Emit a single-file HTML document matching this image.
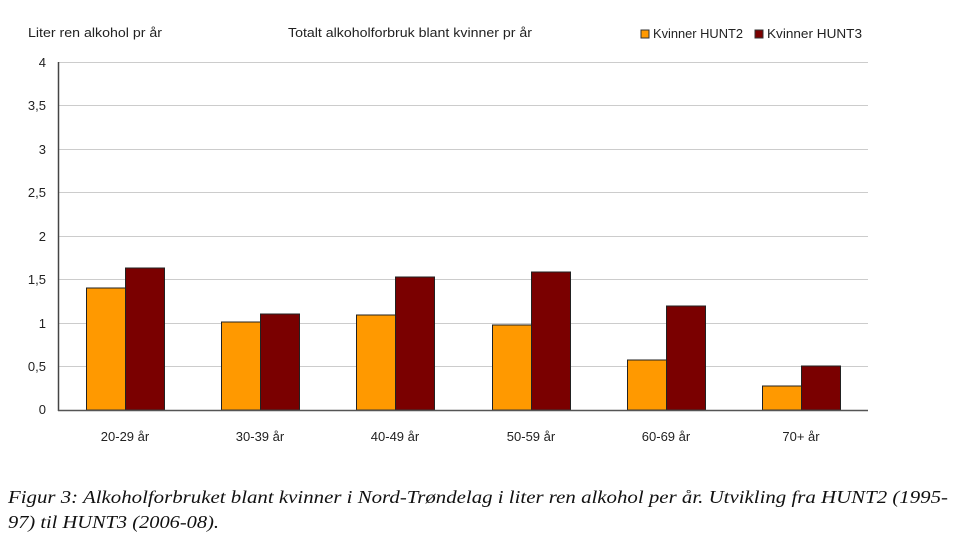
<!DOCTYPE html>
<html><head><meta charset="utf-8"><style>body{margin:0;background:#fff}svg{display:block}</style></head><body>
<svg width="960" height="542" xmlns="http://www.w3.org/2000/svg" font-family="Liberation Sans, sans-serif">
<rect width="960" height="542" fill="#fff"/>
<text x="28" y="37" font-size="13" fill="#222" textLength="134" lengthAdjust="spacingAndGlyphs">Liter ren alkohol pr år</text>
<text x="288" y="37" font-size="13" fill="#222" textLength="244" lengthAdjust="spacingAndGlyphs">Totalt alkoholforbruk blant kvinner pr år</text>
<rect x="641" y="30" width="8" height="8" fill="#f90" stroke="#333" stroke-width="1"/>
<text x="653" y="38" font-size="12.5" fill="#222" textLength="90" lengthAdjust="spacingAndGlyphs">Kvinner HUNT2</text>
<rect x="755" y="30" width="8" height="8" fill="#7a0000" stroke="#333" stroke-width="1"/>
<text x="767" y="38" font-size="12.5" fill="#222" textLength="95" lengthAdjust="spacingAndGlyphs">Kvinner HUNT3</text>
<g stroke="#ccc" stroke-width="1">
<line x1="58" x2="868" y1="62.5" y2="62.5"/><line x1="58" x2="868" y1="105.5" y2="105.5"/>
<line x1="58" x2="868" y1="149.5" y2="149.5"/><line x1="58" x2="868" y1="192.5" y2="192.5"/>
<line x1="58" x2="868" y1="236.5" y2="236.5"/><line x1="58" x2="868" y1="279.5" y2="279.5"/>
<line x1="58" x2="868" y1="323.5" y2="323.5"/><line x1="58" x2="868" y1="366.5" y2="366.5"/>
</g>
<g font-size="13" fill="#222" text-anchor="end">
<text x="46" y="67">4</text><text x="46" y="110">3,5</text><text x="46" y="154">3</text><text x="46" y="197">2,5</text>
<text x="46" y="241">2</text><text x="46" y="284">1,5</text><text x="46" y="328">1</text><text x="46" y="371">0,5</text><text x="46" y="414">0</text>
</g>
<g stroke="#222" stroke-width="1">
<rect x="86.5" y="288" width="39" height="122" fill="#f90"/>
<rect x="125.5" y="268" width="39" height="142" fill="#7a0000"/>
<rect x="221.5" y="322" width="39" height="88" fill="#f90"/>
<rect x="260.5" y="314" width="39" height="96" fill="#7a0000"/>
<rect x="356.5" y="315" width="39" height="95" fill="#f90"/>
<rect x="395.5" y="277" width="39" height="133" fill="#7a0000"/>
<rect x="492.5" y="325" width="39" height="85" fill="#f90"/>
<rect x="531.5" y="272" width="39" height="138" fill="#7a0000"/>
<rect x="627.5" y="360" width="39" height="50" fill="#f90"/>
<rect x="666.5" y="306" width="39" height="104" fill="#7a0000"/>
<rect x="762.5" y="386" width="39" height="24" fill="#f90"/>
<rect x="801.5" y="366" width="39" height="44" fill="#7a0000"/>
</g>
<line x1="58.5" y1="62" x2="58.5" y2="411" stroke="#444" stroke-width="1.5"/>
<line x1="58" y1="410.5" x2="868" y2="410.5" stroke="#555" stroke-width="1.5"/>
<g font-size="13" fill="#222" text-anchor="middle">
<text x="125" y="441">20-29 år</text><text x="260" y="441">30-39 år</text><text x="395" y="441">40-49 år</text>
<text x="531" y="441">50-59 år</text><text x="666" y="441">60-69 år</text><text x="801" y="441">70+ år</text>
</g>
<g font-family="Liberation Serif, serif" font-style="italic" font-size="18" fill="#111">
<text x="8" y="503" textLength="940" lengthAdjust="spacingAndGlyphs">Figur 3: Alkoholforbruket blant kvinner i Nord-Trøndelag i liter ren alkohol per år. Utvikling fra HUNT2 (1995-</text>
<text x="8" y="528" textLength="211" lengthAdjust="spacingAndGlyphs">97) til HUNT3 (2006-08).</text>
</g>
</svg>
</body></html>
